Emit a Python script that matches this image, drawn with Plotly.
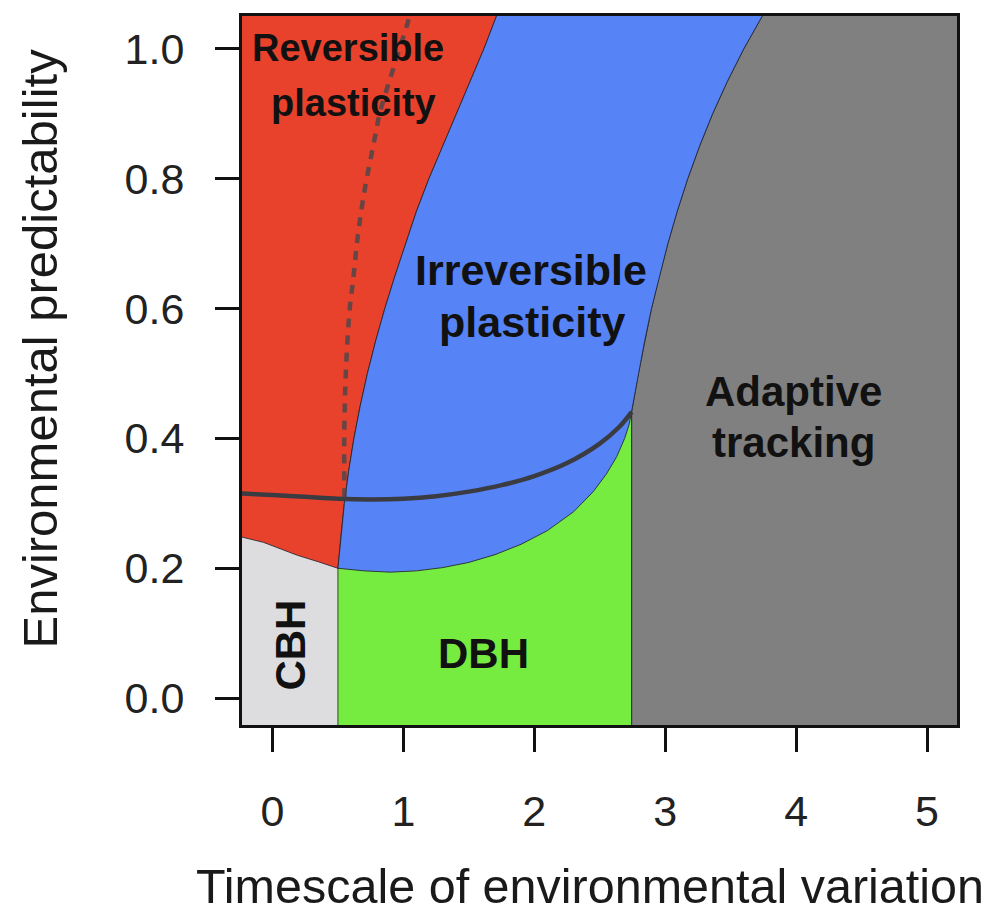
import plotly.graph_objects as go

# ---- boundary read-offs (data units) ----
# CBH (light gray) / reversible plasticity (red)
cbh_top_x = [-0.30, -0.233, -0.07, 0.19, 0.35, 0.50]
cbh_top_y = [0.250, 0.248, 0.240, 0.220, 0.210, 0.200]

# reversible (red) / irreversible (blue) boundary
rb_x = [0.500, 0.523, 0.549, 0.582, 0.622, 0.670, 0.725, 0.788, 0.858, 0.935,
        1.015, 1.100, 1.195, 1.300, 1.410, 1.515, 1.615, 1.714, 1.76]
rb_y = [0.20, 0.25, 0.30, 0.35, 0.40, 0.45, 0.50, 0.55, 0.60, 0.65,
        0.70, 0.75, 0.80, 0.85, 0.90, 0.95, 1.00, 1.052, 1.08]

# irreversible (blue) / adaptive tracking (gray) boundary
bg_x = [2.744, 2.795, 2.843, 2.895, 2.955, 3.020, 3.092, 3.172, 3.262, 3.362,
        3.475, 3.600, 3.740, 3.83]
bg_y = [0.441, 0.50, 0.55, 0.60, 0.65, 0.70, 0.75, 0.80, 0.85, 0.90,
        0.95, 1.00, 1.05, 1.08]

# irreversible (blue) / DBH (green) boundary
bgr_x = [0.50, 0.70, 0.90, 1.10, 1.30, 1.50, 1.70, 1.90, 2.10, 2.30,
         2.45, 2.55, 2.63, 2.69, 2.725, 2.744]
bgr_y = [0.200, 0.196, 0.194, 0.196, 0.201, 0.209, 0.221, 0.237, 0.258, 0.287,
         0.318, 0.345, 0.372, 0.400, 0.422, 0.441]

# CBH / DBH and DBH / adaptive tracking vertical limits
cbh_dbh_x = 0.50
dbh_at_x = 2.744

# solid curve
sl_x = [-0.30, -0.233, 0.0, 0.25, 0.5, 0.75, 1.0, 1.25, 1.5, 1.75,
        2.0, 2.25, 2.5, 2.65, 2.744]
sl_y = [0.316, 0.315, 0.313, 0.310, 0.307, 0.306, 0.307, 0.311, 0.318, 0.328,
        0.342, 0.362, 0.392, 0.418, 0.441]

# dashed curve
dl_x = [0.550, 0.548, 0.56, 0.59, 0.615, 0.653, 0.706, 0.775, 0.821, 0.920, 1.050, 1.07]
dl_y = [0.309, 0.40, 0.50, 0.60, 0.642, 0.714, 0.785, 0.856, 0.902, 0.968, 1.052, 1.07]

x_ticks = [0, 1, 2, 3, 4, 5]
y_ticks = [0.0, 0.2, 0.4, 0.6, 0.8, 1.0]
y_tick_labels = ["0.0", "0.2", "0.4", "0.6", "0.8", "1.0"]

C_RED = "#E9422C"
C_BLUE = "#5683F5"
C_GREEN = "#76EC40"
C_GRAY = "#808080"
C_LIGHT = "#DDDDE0"
EDGE = "rgba(35,35,45,0.85)"
FONT = "Liberation Sans, Arial, Helvetica, sans-serif"

LO, XL, XR = -0.1, -0.3, 5.5

fig = go.Figure()

# green (DBH)
fig.add_trace(go.Scatter(
    x=[cbh_dbh_x, cbh_dbh_x, dbh_at_x, dbh_at_x, cbh_dbh_x],
    y=[LO, bgr_y[-1], bgr_y[-1], LO, LO],
    fill="toself", fillcolor=C_GREEN, mode="lines",
    line=dict(color=EDGE, width=1), hoverinfo="skip", showlegend=False))

# gray (adaptive tracking)
gx = [dbh_at_x] + bg_x + [XR, XR, dbh_at_x]
gy = [LO] + bg_y + [bg_y[-1], LO, LO]
fig.add_trace(go.Scatter(
    x=gx, y=gy, fill="toself", fillcolor=C_GRAY, mode="lines",
    line=dict(color=EDGE, width=1), hoverinfo="skip", showlegend=False))

# red (reversible plasticity)
rx = cbh_top_x + rb_x[1:] + [XL, XL]
ry = cbh_top_y + rb_y[1:] + [rb_y[-1], cbh_top_y[0]]
fig.add_trace(go.Scatter(
    x=rx, y=ry, fill="toself", fillcolor=C_RED, mode="lines",
    line=dict(color=EDGE, width=1), hoverinfo="skip", showlegend=False))

# blue (irreversible plasticity)
bx = rb_x + bg_x[::-1] + bgr_x[::-1]
by = rb_y + bg_y[::-1] + bgr_y[::-1]
fig.add_trace(go.Scatter(
    x=bx, y=by, fill="toself", fillcolor=C_BLUE, mode="lines",
    line=dict(color=EDGE, width=1), hoverinfo="skip", showlegend=False))

# solid curve
fig.add_trace(go.Scatter(
    x=sl_x, y=sl_y, mode="lines", line=dict(color="#3b3b42", width=4.5, shape="spline"),
    hoverinfo="skip", showlegend=False))

# dashed curve
fig.add_trace(go.Scatter(
    x=dl_x, y=dl_y, mode="lines",
    line=dict(color="rgba(70,70,75,0.8)", width=4.5, dash="9px,8px", shape="spline"),
    hoverinfo="skip", showlegend=False))

labels = [
    ("Reversible", 0.576, 1.0015, 38, 0),
    ("plasticity", 0.622, 0.917, 38, 0),
    ("Irreversible", 1.973, 0.6595, 43, 0),
    ("plasticity", 1.981, 0.580, 43, 0),
    ("Adaptive", 3.981, 0.472, 42, 0),
    ("tracking", 3.981, 0.393, 42, 0),
    ("DBH", 1.615, 0.069, 42, 0),
    ("CBH", 0.134, 0.081, 42, -90),
]
for txt, x, y, s, ang in labels:
    fig.add_annotation(x=x, y=y, xref="x", yref="y", text="<b>%s</b>" % txt,
                       showarrow=False, textangle=ang,
                       font=dict(family=FONT, size=s, color="#111111"),
                       xanchor="center", yanchor="middle")

# axis titles
fig.add_annotation(x=0.4867, y=-0.2275, xref="paper", yref="paper",
                   text="Timescale of environmental variation", showarrow=False,
                   font=dict(family=FONT, size=48.5, color="#1a1a1a"),
                   xanchor="center", yanchor="middle")
fig.add_annotation(x=-0.2825, y=0.531, xref="paper", yref="paper",
                   text="Environmental predictability", showarrow=False, textangle=-90,
                   font=dict(family=FONT, size=49, color="#1a1a1a"),
                   xanchor="center", yanchor="middle")

axis_common = dict(showline=True, mirror=True, linewidth=3, linecolor="#111111",
                   ticks="outside", ticklen=24, tickwidth=3, tickcolor="#111111",
                   showgrid=False, zeroline=False,
                   tickfont=dict(family=FONT, size=43, color="#222222"))

fig.update_xaxes(range=[-0.233, 5.229], tickvals=x_ticks,
                 ticktext=[str(v) for v in x_ticks], ticklabelstandoff=22, **axis_common)
fig.update_yaxes(range=[-0.0414, 1.0506], tickvals=y_ticks,
                 ticktext=y_tick_labels, ticklabelstandoff=22, **axis_common)

# page body has an 8px default margin, so the figure is sized/offset to compensate
fig.update_layout(width=988, height=905,
                  margin=dict(l=234, r=39, t=5, b=188),
                  plot_bgcolor=C_LIGHT, paper_bgcolor="white")

fig.write_html("out.html")
